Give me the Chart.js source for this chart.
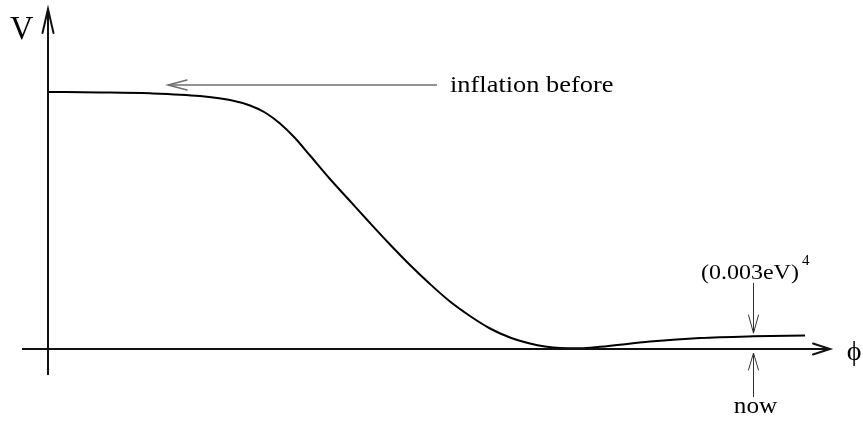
<!DOCTYPE html>
<html>
<head>
<meta charset="utf-8">
<script src="https://cdn.jsdelivr.net/npm/chart.js@4/dist/chart.umd.min.js"></script>
<style>
html,body{margin:0;padding:0;background:#fff;}
canvas{display:block;}
</style>
</head>
<body>
<canvas id="c" width="863" height="424"></canvas>
<script>
// ---- data (field phi, potential V normalised to the inflation plateau = 1) ----
const phiValues = [0.00, 0.52, 1.02, 1.52, 1.82, 2.02, 2.17, 2.32, 2.47, 2.62, 2.82, 3.02, 3.22, 3.42, 3.62, 3.82, 4.02, 4.22, 4.42, 4.62, 4.82, 4.97, 5.12, 5.32, 5.52, 6.02, 6.52, 7.05, 7.57];
const potentialValues = [1.0000, 0.9984, 0.9949, 0.9844, 0.9689, 0.9475, 0.9202, 0.8774, 0.8210, 0.7529, 0.6615, 0.5759, 0.4903, 0.4066, 0.3268, 0.2529, 0.1848, 0.1284, 0.0798, 0.0447, 0.0214, 0.0097, 0.0039, 0.0031, 0.0086, 0.0288, 0.0428, 0.0494, 0.0525];
const axisLabels = ["V", "ϕ"];
const annotationTexts = ["inflation before", "(0.003eV)", "4", "now"];

// ---- layout (data coordinates) ----
const X_MIN = -0.48, X_MAX = 8.15, Y_MIN = -0.2918, Y_MAX = 1.358;
const yAxisLine = [{x:0, y:-0.101}, {x:0, y:1.323}];
const xAxisLine = [{x:-0.26, y:0}, {x:7.82, y:0}];
const inflArrow = [{x:3.89, y:1.027}, {x:1.20, y:1.027}];
const downArrow = [{x:7.055, y:0.257}, {x:7.055, y:0.062}];
const upArrow = [{x:7.055, y:-0.187}, {x:7.055, y:-0.0156}];

const curve = phiValues.map((p, i) => ({x: p, y: potentialValues[i]}));

function lineDs(data, color, width) {
  return {data, borderColor: color, borderWidth: width, pointRadius: 0, showLine: true, tension: 0, fill: false};
}

function head(ctx, tip, from, len, half) {
  const dx = tip.x - from.x, dy = tip.y - from.y;
  const L = Math.hypot(dx, dy); const ux = dx / L, uy = dy / L;
  const bx = tip.x - ux * len, by = tip.y - uy * len;
  ctx.beginPath();
  ctx.moveTo(bx - uy * half, by + ux * half);
  ctx.lineTo(tip.x, tip.y);
  ctx.lineTo(bx + uy * half, by - ux * half);
  ctx.stroke();
}

function txt(ctx, s, x, y, font, align, sx) {
  ctx.save();
  ctx.font = font; ctx.textAlign = align; ctx.textBaseline = 'alphabetic';
  ctx.fillStyle = '#000';
  ctx.translate(x, y); ctx.scale(sx, 1);
  ctx.fillText(s, 0, 0);
  ctx.restore();
}

const decor = {
  id: 'decor',
  afterDatasetsDraw(chart) {
    const {ctx, scales: {x, y}} = chart;
    const P = pt => ({x: x.getPixelForValue(pt.x), y: y.getPixelForValue(pt.y)});
    ctx.save();
    ctx.lineCap = 'round'; ctx.lineJoin = 'miter';
    // axis arrowheads
    ctx.strokeStyle = '#111'; ctx.lineWidth = 2;
    head(ctx, P(yAxisLine[1]), P(yAxisLine[0]), 24, 5.5);
    head(ctx, P(xAxisLine[1]), P(xAxisLine[0]), 17, 5.5);
    // annotation arrowheads
    ctx.strokeStyle = '#6e6e6e'; ctx.lineWidth = 1.5;
    head(ctx, P(inflArrow[1]), P(inflArrow[0]), 19, 5);
    ctx.strokeStyle = '#333'; ctx.lineWidth = 1;
    head(ctx, P(downArrow[1]), P(downArrow[0]), 18, 5);
    head(ctx, P(upArrow[1]), P(upArrow[0]), 17, 5);
    // text
    const serif = '"Liberation Serif", "DejaVu Serif", "Times New Roman", serif';
    const v = P({x:-0.38, y:1.206});
    txt(ctx, axisLabels[0], v.x, v.y, '34px ' + serif, 'left', 0.95);
    const f = P({x:8.06, y:-0.042});
    txt(ctx, axisLabels[1], f.x, f.y, '28px ' + serif, 'center', 1);
    const ib = P({x:4.02, y:1.0});
    txt(ctx, annotationTexts[0], ib.x, ib.y, '24px ' + serif, 'left', 1.1);
    const ev = P({x:6.53, y:0.274});
    txt(ctx, annotationTexts[1], ev.x, ev.y, '22px ' + serif, 'left', 1.09);
    const e4 = P({x:7.54, y:0.327});
    txt(ctx, annotationTexts[2], e4.x, e4.y, '15px ' + serif, 'left', 1.0);
    const nw = P({x:7.075, y:-0.249});
    txt(ctx, annotationTexts[3], nw.x, nw.y, '24px ' + serif, 'center', 1.05);
    ctx.restore();
  }
};

new Chart(document.getElementById('c'), {
  type: 'scatter',
  data: {
    datasets: [
      lineDs(yAxisLine, '#111', 2),
      lineDs(xAxisLine, '#111', 2),
      lineDs(inflArrow, '#6e6e6e', 1.5),
      lineDs(downArrow, '#333', 1),
      lineDs(upArrow, '#333', 1),
      Object.assign(lineDs(curve, '#000', 2), {cubicInterpolationMode: 'monotone'})
    ]
  },
  options: {
    responsive: false,
    animation: false,
    layout: {padding: 0},
    plugins: {legend: {display: false}, tooltip: {enabled: false}},
    scales: {
      x: {type: 'linear', min: X_MIN, max: X_MAX, display: false},
      y: {type: 'linear', min: Y_MIN, max: Y_MAX, display: false}
    }
  },
  plugins: [decor]
});
</script>
</body>
</html>
